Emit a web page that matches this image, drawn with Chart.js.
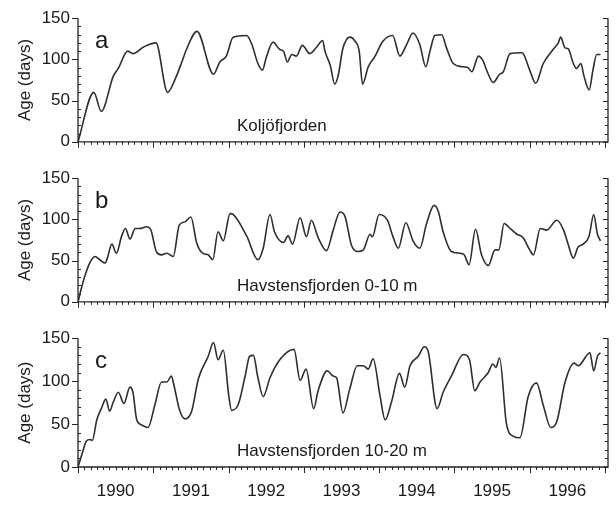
<!DOCTYPE html>
<html>
<head>
<meta charset="utf-8">
<script src="https://cdn.jsdelivr.net/npm/chart.js@4/dist/chart.umd.min.js"></script>
<style>
  html, body { margin: 0; padding: 0; background: #fff; }
  #wrap { position: relative; width: 616px; height: 505px; overflow: hidden; }
  canvas { position: absolute; left: 0; }
</style>
</head>
<body>
<div id="wrap">
  <canvas id="panelA" width="616" height="160" style="top:0px"></canvas>
  <canvas id="panelB" width="616" height="160" style="top:160px"></canvas>
  <canvas id="panelC" width="616" height="185" style="top:320px"></canvas>
</div>
<script>
// Year labels on the shared time axis and the age ticks on each panel
const yearLabels = ['1990', '1991', '1992', '1993', '1994', '1995', '1996'];
const ageTicks = [0, 50, 100, 150];

// Koljöfjorden: water age (days) against decimal year
const koljoTime = [1990.00, 1990.21, 1990.31, 1990.47, 1990.535, 1990.66, 1990.73, 1990.87, 1991.035, 1991.19,
  1991.29, 1991.38, 1991.44, 1991.58, 1991.80, 1991.885, 1991.97, 1992.06, 1992.24, 1992.31,
  1992.39, 1992.45, 1992.50, 1992.59, 1992.68, 1992.73, 1992.78, 1992.84, 1992.90, 1992.98,
  1993.08, 1993.17, 1993.25, 1993.28, 1993.35, 1993.41, 1993.46, 1993.515, 1993.61, 1993.68,
  1993.735, 1993.78, 1993.855, 1993.94, 1994.05, 1994.18, 1994.275, 1994.365, 1994.45, 1994.54,
  1994.62, 1994.675, 1994.74, 1994.83, 1994.895, 1994.985, 1995.12, 1995.18, 1995.23, 1995.32,
  1995.375, 1995.45, 1995.515, 1995.60, 1995.65, 1995.74, 1995.895, 1995.92, 1996.00, 1996.08,
  1996.18, 1996.31, 1996.38, 1996.41, 1996.47, 1996.51, 1996.58, 1996.62, 1996.68, 1996.72,
  1996.79, 1996.84, 1996.89, 1996.94];
const koljoAge = [0, 60, 37, 80, 89, 110, 107, 115, 120, 60,
  76, 97, 112, 134, 82, 97, 104, 127, 129, 118,
  95, 87, 102, 121, 112, 110, 97, 106, 104, 117,
  107, 115, 123, 110, 93, 70, 82, 112, 127, 122,
  110, 70, 91, 103, 122, 129, 104, 118, 132, 118,
  91, 110, 129, 130, 114, 95, 91, 90, 85, 104,
  99, 82, 72, 82, 85, 107, 108, 106, 87, 71,
  95, 112, 120, 127, 114, 113, 95, 89, 95, 80,
  63, 87, 106, 106];

// Havstensfjorden 0-10 m
const havUpperTime = [1990.00, 1990.07, 1990.15, 1990.225, 1990.29, 1990.36, 1990.39, 1990.45, 1990.51, 1990.58,
  1990.63, 1990.69, 1990.76, 1990.82, 1990.91, 1990.965, 1991.04, 1991.11, 1991.18, 1991.265,
  1991.345, 1991.42, 1991.50, 1991.575, 1991.655, 1991.73, 1991.79, 1991.86, 1991.93, 1992.02,
  1992.06, 1992.24, 1992.39, 1992.46, 1992.55, 1992.61, 1992.73, 1992.79, 1992.85, 1992.95,
  1993.035, 1993.10, 1993.19, 1993.30, 1993.39, 1993.48, 1993.545, 1993.635, 1993.72, 1993.79,
  1993.88, 1993.91, 1994.00, 1994.11, 1994.18, 1994.255, 1994.355, 1994.45, 1994.54, 1994.63,
  1994.73, 1994.785, 1994.85, 1994.96, 1995.07, 1995.13, 1995.195, 1995.28, 1995.36, 1995.45,
  1995.54, 1995.59, 1995.66, 1995.74, 1995.83, 1995.91, 1996.00, 1996.05, 1996.14, 1996.225,
  1996.36, 1996.45, 1996.51, 1996.58, 1996.64, 1996.71, 1996.79, 1996.85, 1996.90, 1996.94];
const havUpperAge = [0, 25, 46, 55, 51, 47, 53, 70, 59, 80,
  89, 76, 89, 89, 91, 88, 61, 57, 59, 55,
  93, 97, 103, 72, 59, 57, 51, 85, 74, 107,
  106, 80, 51, 65, 106, 85, 72, 80, 70, 102,
  79, 99, 78, 62, 87, 109, 104, 68, 61, 63,
  82, 79, 106, 99, 80, 65, 96, 74, 65, 95,
  117, 110, 85, 61, 59, 57, 45, 88, 57, 44,
  63, 63, 95, 89, 82, 78, 63, 57, 89, 87,
  99, 87, 70, 53, 66, 70, 80, 106, 82, 74];

// Havstensfjorden 10-20 m
const havLowerTime = [1990.00, 1990.06, 1990.11, 1990.16, 1990.19, 1990.25, 1990.31, 1990.37, 1990.42, 1990.47,
  1990.535, 1990.61, 1990.69, 1990.73, 1990.78, 1990.845, 1990.93, 1991.02, 1991.11, 1991.18,
  1991.24, 1991.27, 1991.35, 1991.42, 1991.51, 1991.60, 1991.73, 1991.80, 1991.86, 1991.93,
  1992.00, 1992.04, 1992.13, 1992.22, 1992.28, 1992.33, 1992.39, 1992.46, 1992.55, 1992.68,
  1992.87, 1992.95, 1993.03, 1993.13, 1993.19, 1993.31, 1993.39, 1993.435, 1993.52, 1993.61,
  1993.71, 1993.79, 1993.855, 1993.92, 1994.01, 1994.08, 1994.165, 1994.27, 1994.34, 1994.41,
  1994.52, 1994.60, 1994.65, 1994.77, 1994.85, 1994.96, 1995.12, 1995.20, 1995.27, 1995.34,
  1995.45, 1995.51, 1995.55, 1995.60, 1995.69, 1995.78, 1995.87, 1995.98, 1996.09, 1996.18,
  1996.28, 1996.36, 1996.47, 1996.59, 1996.645, 1996.80, 1996.85, 1996.90, 1996.94];
const havLowerAge = [0, 17, 30, 32, 31, 55, 68, 79, 65, 76,
  87, 74, 93, 87, 55, 49, 46, 72, 99, 99,
  106, 97, 66, 56, 65, 103, 129, 145, 125, 136,
  85, 66, 73, 106, 129, 130, 104, 82, 104, 125,
  137, 101, 114, 68, 89, 112, 106, 104, 63, 91,
  118, 118, 114, 126, 84, 55, 76, 109, 93, 118,
  129, 140, 135, 68, 87, 106, 131, 125, 89, 99,
  110, 120, 116, 127, 51, 36, 34, 82, 98, 72,
  46, 53, 99, 121, 118, 133, 112, 129, 133];

const FONT = '"Liberation Sans", Arial, Helvetica, sans-serif';
const INK = '#262626';

// Draws the open frame (left, bottom, right axes), monthly and 10-day ticks,
// the panel letter and the station caption.
const framePlugin = {
  id: 'frame',
  afterDraw(chart, args, opts) {
    const { ctx, chartArea: a, scales: { x, y } } = chart;
    const y0 = y.getPixelForValue(0);
    const yTop = y.getPixelForValue(150);
    const xl = x.getPixelForValue(x.min);
    const xr = x.getPixelForValue(x.max);
    ctx.save();
    ctx.strokeStyle = INK;
    ctx.lineWidth = 1.3;
    ctx.beginPath();
    ctx.moveTo(xl, yTop); ctx.lineTo(xl, y0); ctx.lineTo(xr, y0); ctx.lineTo(xr, yTop);
    ctx.stroke();

    ctx.lineWidth = 1;
    ctx.beginPath();
    for (let v = 0; v <= 150; v += 10) {
      const py = Math.round(y.getPixelForValue(v)) + 0.5;
      const major = v % 50 === 0;
      if (major) { ctx.moveTo(xl - 6, py); ctx.lineTo(xl, py); }
      else { ctx.moveTo(xl, py); ctx.lineTo(xl + 3, py); }
      ctx.moveTo(xr, py); ctx.lineTo(xr - (major ? 5 : 3), py);
    }
    for (let m = 0; m <= 84; m++) {
      const px = Math.round(x.getPixelForValue(1990 + m / 12)) + 0.5;
      ctx.moveTo(px, y0); ctx.lineTo(px, y0 + (m % 12 === 0 ? 6 : 3));
    }
    ctx.stroke();

    ctx.fillStyle = '#1a1a1a';
    ctx.textAlign = 'left';
    ctx.textBaseline = 'alphabetic';
    ctx.font = '24px ' + FONT;
    ctx.fillText(opts.letter, a.left + 17, a.top + 30);
    ctx.font = '17px ' + FONT;
    ctx.fillText(opts.caption, a.left + 159, a.bottom - 11);
    ctx.restore();
  }
};

function makePanel(id, times, ages, letter, caption, showYears) {
  const canvas = document.getElementById(id);
  const points = times.map((t, i) => ({ x: t, y: ages[i] }));
  return new Chart(canvas, {
    type: 'line',
    data: {
      datasets: [{
        data: points,
        borderColor: '#2e2e2e',
        borderWidth: 1.6,
        pointRadius: 0,
        fill: false,
        cubicInterpolationMode: 'monotone'
      }]
    },
    options: {
      responsive: false,
      animation: false,
      events: [],
      layout: { padding: { left: 0, right: 8, top: 15, bottom: 0 } },
      plugins: {
        legend: { display: false },
        tooltip: { enabled: false },
        frame: { letter: letter, caption: caption }
      },
      scales: {
        x: {
          type: 'linear',
          min: 1990,
          max: 1997.04,
          grid: { display: false, drawTicks: false },
          border: { display: false },
          afterBuildTicks: (scale) => {
            scale.ticks = yearLabels.map((_, i) => ({ value: 1990.5 + i }));
          },
          afterFit: (scale) => { scale.height = canvas.height - 147; },
          ticks: {
            display: showYears,
            autoSkip: false,
            maxRotation: 0,
            padding: 14,
            color: '#1a1a1a',
            font: { family: FONT, size: 17 },
            callback: (v) => yearLabels[Math.round(v - 1990.5)]
          }
        },
        y: {
          min: 0,
          max: 150,
          grid: { display: false, drawTicks: false },
          border: { display: false },
          afterBuildTicks: (scale) => {
            scale.ticks = ageTicks.map(v => ({ value: v }));
          },
          afterFit: (scale) => { scale.width = 78; },
          ticks: {
            padding: 8,
            color: '#1a1a1a',
            font: { family: FONT, size: 17 }
          },
          title: {
            display: true,
            text: 'Age (days)',
            color: '#1a1a1a',
            font: { family: FONT, size: 17 },
            padding: { top: 15, bottom: 0 }
          }
        }
      }
    },
    plugins: [framePlugin]
  });
}

makePanel('panelA', koljoTime, koljoAge, 'a', 'Koljöfjorden', false);
makePanel('panelB', havUpperTime, havUpperAge, 'b', 'Havstensfjorden 0-10 m', false);
makePanel('panelC', havLowerTime, havLowerAge, 'c', 'Havstensfjorden 10-20 m', true);
</script>
</body>
</html>
